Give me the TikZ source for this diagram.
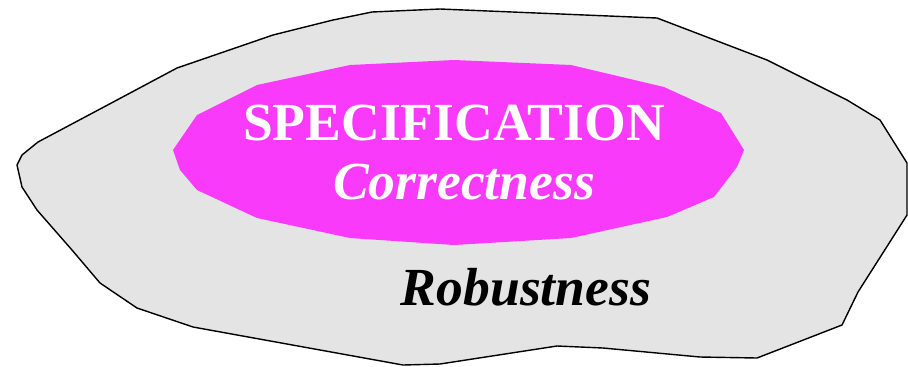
\documentclass[tikz,border=0pt]{standalone}
\usepackage{fontspec}
\setmainfont{Liberation Serif}
\usepackage{xcolor}
\usepackage{tikz}
\usetikzlibrary{positioning}

\definecolor{blobgray}{RGB}{228,228,228}
\definecolor{specpink}{RGB}{250,58,250}

\begin{document}
\begin{tikzpicture}[
    x=0.02cm, y=-0.02cm,
    blob/.style={draw=black, fill=blobgray, line width=0.8pt, line join=round},
    spec/.style={fill=specpink, draw=none},
    title/.style={font=\fontsize{30.5}{36}\selectfont\bfseries, text=white, inner sep=0pt},
    quality/.style={font=\fontsize{30.5}{36}\selectfont\bfseries\itshape, inner sep=0pt},
  ]
    \useasboundingbox (0,0) rectangle (908,366);

    % Outer region (robustness)
    \draw[blob] (372,12) -- (440,9) -- (657,18) -- (767,60) -- (847,100) -- (880,120)
      -- (907,163) -- (907,215) -- (858,292) -- (842,325) -- (757,358) -- (700,357)
      -- (603,348) -- (557,346) -- (440,364) -- (403,365) -- (193,327) -- (137,308)
      -- (100,283) -- (72,250) -- (37,210) -- (22,187) -- (17,165) -- (22,155)
      -- (38,142) -- (117,100) -- (177,68) -- (273,35) -- (333,20) -- cycle;

    % Inner region (specification)
    \fill[spec] (350,65) -- (454,60) -- (571,65) -- (664,87) -- (721,113) -- (744,150)
      -- (737,167) -- (714,197) -- (667,217) -- (571,238) -- (454,245) -- (350,238)
      -- (257,218) -- (197,190) -- (180,170) -- (173,150) -- (197,115) -- (257,85) -- cycle;

    % Labels
    \node[title, anchor=base] (spectxt) at (454,140) {SPECIFICATION};
    \node[title, font=\fontsize{30.5}{36}\selectfont\bfseries\itshape, anchor=base] (corrtxt) at (464,199) {Correctness};
    \node[quality, anchor=base] (robtxt) at (526,305) {Robustness};

  \end{tikzpicture}
\end{document}
